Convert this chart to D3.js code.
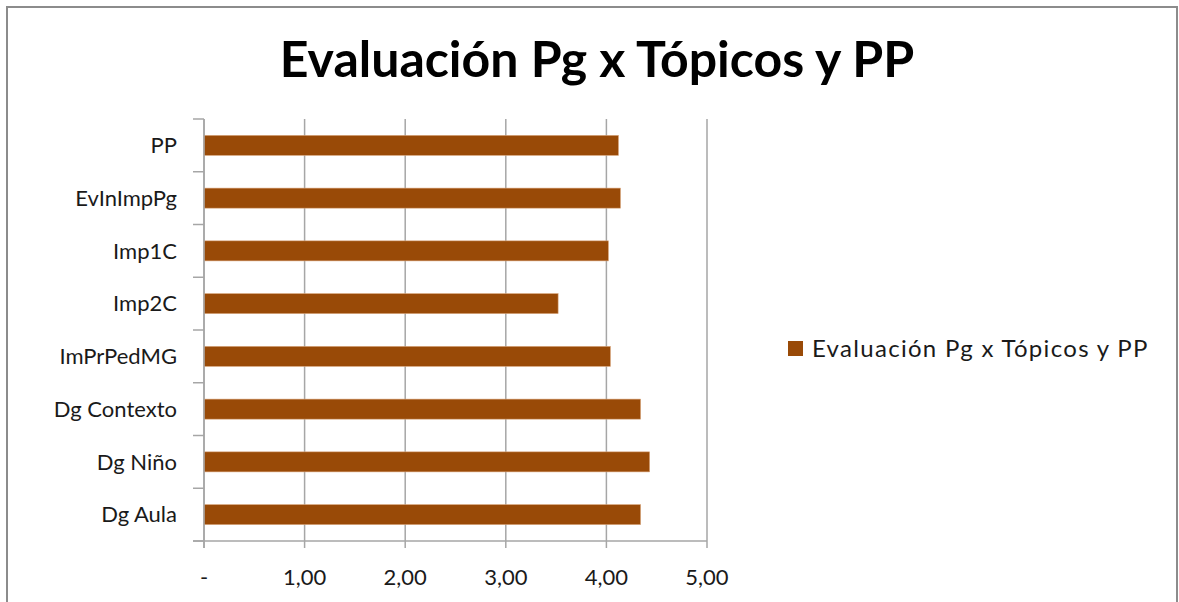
<!DOCTYPE html>
<html>
<head>
<meta charset="utf-8">
<script src="https://d3js.org/d3.v7.min.js"></script>
<style>
  body { margin: 0; background: #fff; }
  svg text { font-family: Lato, "Open Sans", sans-serif; }
</style>
</head>
<body>
<div id="chart"></div>
<script>
// data, top to bottom
const categories = ["PP", "EvInImpPg", "Imp1C", "Imp2C", "ImPrPedMG", "Dg Contexto", "Dg Niño", "Dg Aula"];
const values = [4.12, 4.14, 4.02, 3.52, 4.04, 4.34, 4.43, 4.34];
const xTicks = [0, 1, 2, 3, 4, 5];
const tickLabels = ["-", "1,00", "2,00", "3,00", "4,00", "5,00"];
const seriesName = "Evaluación Pg x Tópicos y PP";
const chartTitle = "Evaluación Pg x Tópicos y PP";

const W = 1179, H = 602;
const margin = { top: 119, left: 204, right: 472, bottom: 61 };
const width = W - margin.left - margin.right;
const height = H - margin.top - margin.bottom;
const barColor = "#994a07";
const gridColor = "#a6a6a6";

const svg = d3.select("#chart").append("svg")
  .attr("width", W)
  .attr("height", H);

// outer frame
svg.append("rect")
  .attr("x", 7).attr("y", 7)
  .attr("width", 1170).attr("height", 610)
  .attr("fill", "none")
  .attr("stroke", "#8c8c8c")
  .attr("stroke-width", 2);

svg.append("text")
  .attr("x", 597).attr("y", 77)
  .attr("text-anchor", "middle")
  .style("font-size", "50px")
  .style("font-weight", "bold")
  .attr("fill", "#000")
  .text(chartTitle);

const g = svg.append("g")
  .attr("transform", `translate(${margin.left},${margin.top})`);

const x = d3.scaleLinear().domain([0, 5]).range([0, width]);
const y = d3.scaleBand().domain(categories).range([0, height]).paddingInner(0.62).paddingOuter(0.31);
const yb = d3.scaleBand().domain(categories).range([0, height]);

// vertical gridlines (also serve as x ticks below the axis)
g.selectAll(".grid")
  .data(xTicks)
  .join("line")
  .attr("class", "grid")
  .attr("x1", d => x(d)).attr("x2", d => x(d))
  .attr("y1", 0).attr("y2", height + 7)
  .attr("stroke", gridColor)
  .attr("stroke-width", 1.5);

// bars
g.selectAll(".bar")
  .data(categories)
  .join("rect")
  .attr("class", "bar")
  .attr("x", x(0))
  .attr("y", d => y(d))
  .attr("width", (d, i) => x(values[i]) - x(0))
  .attr("height", y.bandwidth())
  .attr("fill", barColor)
  .attr("stroke", "#d9a77f")
  .attr("stroke-width", 0.6);

// y axis line and category ticks
g.append("line")
  .attr("x1", 0).attr("x2", 0)
  .attr("y1", 0).attr("y2", height + 7)
  .attr("stroke", gridColor).attr("stroke-width", 1.5);

g.selectAll(".ytick")
  .data(categories.concat(["_end"]))
  .join("line")
  .attr("class", "ytick")
  .attr("x1", -11).attr("x2", 0)
  .attr("y1", (d, i) => i * yb.step())
  .attr("y2", (d, i) => i * yb.step())
  .attr("stroke", gridColor).attr("stroke-width", 1.5);

// x axis line
g.append("line")
  .attr("x1", -11).attr("x2", width)
  .attr("y1", height).attr("y2", height)
  .attr("stroke", gridColor).attr("stroke-width", 1.5);

// category labels
g.selectAll(".ylab")
  .data(categories)
  .join("text")
  .attr("class", "ylab")
  .attr("x", -27)
  .attr("y", d => yb(d) + yb.bandwidth() / 2)
  .attr("dy", "0.35em")
  .attr("text-anchor", "end")
  .style("font-size", "22px")
  .attr("fill", "#1a1a1a")
  .text(d => d);

// x tick labels
g.selectAll(".xlab")
  .data(xTicks)
  .join("text")
  .attr("class", "xlab")
  .attr("x", d => x(d))
  .attr("y", height + 44)
  .attr("text-anchor", "middle")
  .style("font-size", "22px")
  .attr("fill", "#1a1a1a")
  .text((d, i) => tickLabels[i]);

// legend
const legend = svg.append("g").attr("transform", "translate(788,341)");
legend.append("rect")
  .attr("width", 15).attr("height", 15)
  .attr("fill", barColor);
legend.append("text")
  .attr("x", 24).attr("y", 8)
  .attr("dy", "0.35em")
  .style("font-size", "24px")
  .style("letter-spacing", "1.3px")
  .attr("fill", "#1a1a1a")
  .text(seriesName);
</script>
</body>
</html>
